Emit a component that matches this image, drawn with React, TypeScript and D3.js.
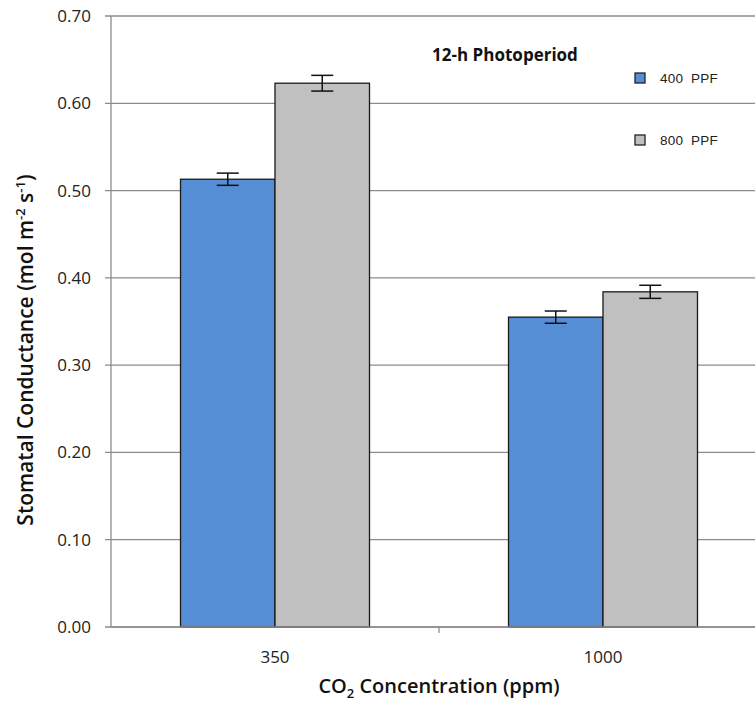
import React from "react";
import * as d3 from "d3";

const categories = ["350", "1000"];
const seriesNames = ["400 PPF", "800 PPF"];
const values400 = [0.513, 0.355];
const values800 = [0.623, 0.384];
const errors400 = [0.007, 0.007];
const errors800 = [0.009, 0.0075];
const yTicks = [0, 0.1, 0.2, 0.3, 0.4, 0.5, 0.6, 0.7];
const colors = ["#558ED5", "#C0C0C0"];

export default function App() {
  const W = 755, H = 701;
  const left = 111, right = 767, top = 16, bottom = 627;
  const y = d3.scaleLinear().domain([0, 0.7]).range([bottom, top]);
  const x = d3.scaleBand().domain(categories).range([left, right]).paddingInner(0).paddingOuter(0);
  const inner = d3.scaleBand().domain(seriesNames).range([0, 189]);
  const series = [
    { name: seriesNames[0], vals: values400, errs: errors400, color: colors[0] },
    { name: seriesNames[1], vals: values800, errs: errors800, color: colors[1] },
  ];
  const font = "'Open Sans', 'Liberation Sans', sans-serif";
  return (
    <svg width={W} height={H} style={{ position: "absolute", left: 0, top: 0, background: "#fff" }}>
      {yTicks.map((t) => (
        <g key={t}>
          <line x1={left - 6} x2={W} y1={y(t)} y2={y(t)} stroke="#8c8c8c" strokeWidth={1.3} />
          <text x={91} y={y(t)} dy="0.35em" textAnchor="end" fontFamily={font} fontSize={17} fill="#222">
            {t.toFixed(2)}
          </text>
        </g>
      ))}
      <line x1={left} x2={left} y1={top} y2={bottom} stroke="#8c8c8c" strokeWidth={1.3} />
      {categories.map((c, i) => {
        const gx = x(c)! + (x.bandwidth() - 189) / 2;
        return (
          <g key={c}>
            {series.map((s) => {
              const bx = gx + inner(s.name)!;
              const bw = inner.bandwidth();
              const v = s.vals[i];
              const e = s.errs[i];
              const cx = bx + bw / 2;
              return (
                <g key={s.name}>
                  <rect x={bx} y={y(v)} width={bw} height={bottom - y(v)} fill={s.color} stroke="#1a1a1a" strokeWidth={1.3} />
                  <line x1={cx} x2={cx} y1={y(v + e)} y2={y(v - e)} stroke="#111" strokeWidth={1.5} />
                  <line x1={cx - 11} x2={cx + 11} y1={y(v + e)} y2={y(v + e)} stroke="#111" strokeWidth={1.5} />
                  <line x1={cx - 11} x2={cx + 11} y1={y(v - e)} y2={y(v - e)} stroke="#111" strokeWidth={1.5} />
                </g>
              );
            })}
            <text x={x(c)! + x.bandwidth() / 2} y={663} textAnchor="middle" fontFamily={font} fontSize={17} fill="#222">
              {c}
            </text>
          </g>
        );
      })}
      <line x1={left} x2={W} y1={bottom} y2={bottom} stroke="#8c8c8c" strokeWidth={1.3} />
      <line x1={x("1000")!} x2={x("1000")!} y1={bottom} y2={bottom + 6} stroke="#8c8c8c" strokeWidth={1.3} />
      <text x={505} y={61} textAnchor="middle" fontFamily={font} fontWeight="bold" fontSize={17} fill="#111">
        12-h Photoperiod
      </text>
      {series.map((s, i) => (
        <g key={s.name}>
          <rect x={635} y={73 + i * 62} width={10} height={10} fill={s.color} stroke="#222" strokeWidth={1.3} />
          <text x={660} y={78 + i * 62} dy="0.35em" fontFamily="'Liberation Sans', Arial, sans-serif" fontSize={13.5} fill="#222" letterSpacing={0.2}>
            {s.name.replace(" ", "\u00a0 ")}
          </text>
        </g>
      ))}
      <text x={439} y={693} textAnchor="middle" fontFamily={font} fontWeight={600} fontSize={20} fill="#111">
        CO<tspan dy={5} fontSize={13}>2</tspan><tspan dy={-5}> Concentration (ppm)</tspan>
      </text>
      <text transform="translate(33,350) rotate(-90)" textAnchor="middle" fontFamily={font} fontWeight={600} fontSize={21} fill="#111">
        Stomatal Conductance (mol m<tspan dy={-8} fontSize={13}>-2</tspan><tspan dy={8}> s</tspan><tspan dy={-8} fontSize={13}>-1</tspan><tspan dy={8}>)</tspan>
      </text>
    </svg>
  );
}
